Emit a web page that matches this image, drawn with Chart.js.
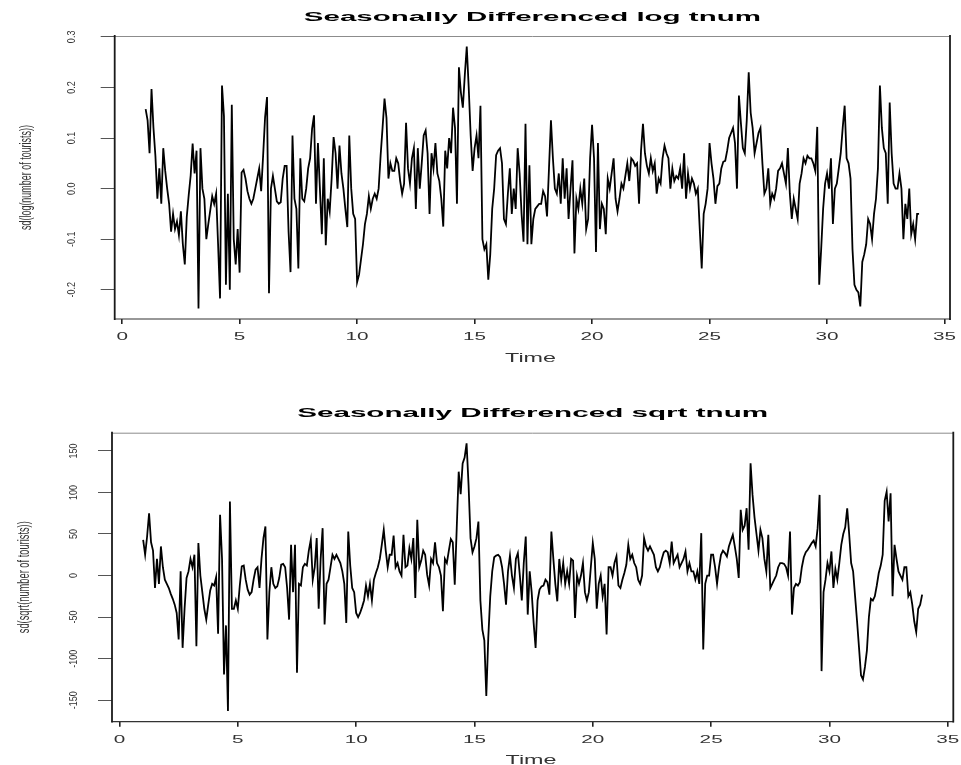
<!DOCTYPE html>
<html>
<head>
<meta charset="utf-8">
<script src="https://cdn.jsdelivr.net/npm/chart.js@4.4.1/dist/chart.umd.min.js"></script>
<style>
  html, body { margin: 0; padding: 0; background: #fff; }
  #wrap { position: relative; width: 961px; height: 765px; overflow: hidden; background: #fff; }
  #wrap canvas { position: absolute; left: 0; }
</style>
</head>
<body>
<div id="wrap">
  <canvas id="logPanel" width="961" height="380" style="top:0px"></canvas>
  <canvas id="sqrtPanel" width="961" height="385" style="top:380px"></canvas>
</div>
<script>
// Monthly series: start at time 1, 12 observations per unit of time
const tsStart = 1;
const tsFrequency = 12;

// Seasonally differenced log of tourist numbers (one row per year)
const sdLogTnum = [
   0.157,  0.135,  0.070,  0.197,  0.120,  0.064, -0.020,  0.040, -0.030,  0.080,  0.035,  0.000,
  -0.030, -0.085, -0.050, -0.080, -0.065, -0.092, -0.045, -0.110, -0.150, -0.056, -0.013,  0.026,
   0.089,  0.030,  0.075, -0.237,  0.080,  0.000, -0.020, -0.100, -0.070, -0.043, -0.015, -0.030,
  -0.010, -0.110, -0.217,  0.204,  0.143, -0.190, -0.010, -0.200,  0.166, -0.100, -0.150, -0.080,
  -0.166,  0.032,  0.037,  0.020, -0.005, -0.020, -0.030, -0.020,  0.000,  0.020,  0.040, -0.005,
   0.065,  0.141,  0.181, -0.207,  0.000,  0.025,  0.000, -0.025, -0.030, -0.027,  0.020,  0.045,
   0.045, -0.085, -0.165,  0.105, -0.020, -0.040, -0.158,  0.060, -0.020, -0.025,  0.000,  0.040,
   0.060,  0.118,  0.145, -0.030,  0.090,  0.000, -0.090,  0.060, -0.112, -0.020, -0.045,  0.020,
   0.102,  0.070,  0.000,  0.085,  0.030,  0.000, -0.040, -0.076,  0.105,  0.000, -0.050, -0.060,
  -0.185, -0.170, -0.140, -0.110, -0.070, -0.050, -0.015, -0.040, -0.020, -0.010, -0.020,  0.000,
   0.065,  0.120,  0.178,  0.140,  0.020,  0.050,  0.035,  0.035,  0.060,  0.050,  0.015, -0.010,
   0.010,  0.130,  0.040,  0.010,  0.060,  0.080, -0.040,  0.080,  0.000,  0.050,  0.105,  0.115,
   0.070, -0.050,  0.070,  0.040,  0.090,  0.030,  0.015, -0.020, -0.075,  0.075,  0.040,  0.100,
   0.070,  0.160,  0.120, -0.030,  0.240,  0.190,  0.160,  0.224,  0.281,  0.200,  0.105,  0.035,
   0.080,  0.105,  0.060,  0.164, -0.100, -0.120, -0.110, -0.180, -0.130, -0.040,  0.000,  0.066,
   0.075,  0.080,  0.050, -0.060, -0.070, -0.010,  0.040, -0.050,  0.000, -0.040,  0.080,  0.030,
  -0.050, -0.105,  0.128, -0.110,  0.046, -0.110, -0.060, -0.040, -0.035, -0.030, -0.030, -0.005,
  -0.015, -0.055,  0.040,  0.135,  0.060,  0.000, -0.010,  0.030, -0.030,  0.060, -0.020,  0.040,
  -0.060,  0.000,  0.056, -0.128, -0.020, -0.040,  0.000, -0.030,  0.020, -0.080, -0.060,  0.060,
   0.126,  0.060, -0.125,  0.090, -0.080, -0.030, -0.040, -0.090,  0.020,  0.000,  0.030,  0.060,
  -0.020, -0.045, -0.020,  0.010,  0.000,  0.025,  0.050,  0.015,  0.060,  0.055,  0.045,  0.050,
  -0.030,  0.075,  0.128,  0.070,  0.045,  0.030,  0.060,  0.035,  0.050, -0.010,  0.020,  0.010,
   0.060,  0.085,  0.070,  0.060,  0.000,  0.040,  0.015,  0.025,  0.020,  0.040,  0.000,  0.070,
  -0.020,  0.030,  0.000,  0.020,  0.010, -0.010,  0.000, -0.080, -0.158, -0.050, -0.030,  0.000,
   0.090,  0.050,  0.020, -0.030,  0.005,  0.010,  0.040,  0.053,  0.055,  0.075,  0.100,  0.110,
   0.120,  0.090,  0.000,  0.184,  0.130,  0.080,  0.070,  0.135,  0.230,  0.150,  0.120,  0.070,
   0.090,  0.110,  0.120,  0.050, -0.010,  0.000,  0.040, -0.030, -0.010, -0.020,  0.000,  0.035,
   0.040,  0.050,  0.030,  0.010,  0.080, -0.010, -0.060, -0.020, -0.040, -0.060,  0.010,  0.030,
   0.060,  0.050,  0.065,  0.060,  0.060,  0.050,  0.035,  0.122, -0.190, -0.120, -0.040,  0.010,
   0.030,  0.000,  0.060, -0.070,  0.000,  0.010,  0.040,  0.070,  0.120,  0.164,  0.060,  0.050,
   0.020, -0.120, -0.190, -0.200, -0.205, -0.233, -0.145, -0.130, -0.110, -0.060, -0.070, -0.100,
  -0.050, -0.020,  0.040,  0.204,  0.120,  0.080,  0.070, -0.030,  0.170,  0.070,  0.010,  0.000,
   0.000,  0.030,  0.000, -0.100, -0.030, -0.060,  0.000, -0.090, -0.070, -0.100, -0.050, -0.050
];

// Seasonally differenced square root of tourist numbers (one row per year)
const sdSqrtTnum = [
    43,   25,   47,   75,   40,   30,  -15,   20,  -10,   35,   10,   -5,
   -10,  -15,  -22,  -28,  -35,  -45,  -77,    5,  -87,  -40,   -3,    5,
    20,   10,   25,  -85,   39,    0,  -20,  -40,  -53,  -35,  -18,  -10,
   -12,   -2,  -70,   73,   20, -119,  -60, -163,   89,  -40,  -40,  -30,
   -40,  -12,   11,   12,   -5,  -17,  -23,  -20,   -5,    7,   10,  -15,
    20,   45,   59,  -77,  -20,   10,  -10,  -15,  -13,   -3,   13,   14,
    10,  -15,  -53,   37,  -20,   37, -117,  -10,  -12,   10,   14,   12,
    30,   43,   -5,   10,   45,  -40,   20,   57,  -59,  -10,   -5,   10,
    25,   20,   25,   20,   15,    5,  -10,  -57,   53,   12,  -15,  -20,
   -45,  -50,  -45,  -38,  -30,  -12,  -25,  -10,  -30,   -5,    3,   10,
    20,   37,   55,   30,   10,   25,   25,   48,   10,   15,    5,    0,
    49,   10,   12,   33,   20,   45,  -27,   67,   10,   18,   30,   25,
     1,  -12,   20,   15,   40,   15,   10,    0,  -43,   20,   15,   30,
    44,   40,  -11,   57,  125,   98,  135,  142,  159,  109,   45,   28,
    35,   45,   65,  -30,  -65,  -78, -145,  -75,  -25,    5,   22,   24,
    25,   22,   10,  -10,  -35,    5,   24,    0,  -15,   20,   27,    0,
   -30,   15,   47,  -47,    5,  -20,  -57,  -87,  -30,  -17,  -13,  -12,
    -5,   -8,  -23,   53,   20,  -10,  -31,   20,   -5,   15,  -10,    5,
   -10,   20,   18,  -51,    0,  -10,    0,   15,  -20,  -30,  -20,   10,
    39,   20,  -40,  -10,    0,  -25,  -10,  -71,   10,   10,    0,   15,
    23,  -12,  -15,   -5,    3,   13,   37,   20,   25,   15,   10,   -5,
   -10,    0,   45,   35,   30,   35,   30,   25,   10,    5,   10,   20,
    28,   30,   28,   15,   41,   15,   20,   25,   10,   15,   20,   29,
     5,   15,    5,    5,   -5,    5,  -10,   51,  -89,  -10,    0,    0,
    25,   25,   10,  -10,   10,   25,   30,   27,   23,   35,   42,   49,
    35,   20,   -3,   79,   55,   60,   81,   31,  135,   97,   70,   50,
    30,   55,   45,   20,    5,   49,  -15,  -10,   -5,    0,   10,   15,
    15,   14,   10,    0,   53,  -47,  -15,  -10,  -12,   -8,   10,   22,
    28,   31,   35,   39,   42,   35,   57,   97, -115,  -20,   -5,   15,
     5,   29,  -15,    8,   -5,   15,   37,   50,   58,   81,   50,   15,
     5,  -25,  -55,  -87, -120, -125, -110,  -90,  -50,  -28,  -30,  -25,
   -12,    3,   12,   25,   90,  101,   65,   99,  -25,   37,   20,    5,
     0,   -5,   10,   10,  -25,  -20,  -35,  -55,  -68,  -40,  -35,  -23
];

// Axis ticks
const timeTicks = [0, 5, 10, 15, 20, 25, 30, 35];
const logTicks = [-0.2, -0.1, 0.0, 0.1, 0.2, 0.3];
const logTickLabels = ['-0.2', '-0.1', '0.0', '0.1', '0.2', '0.3'];
const sqrtTicks = [-150, -100, -50, 0, 50, 100, 150];
const sqrtTickLabels = ['-150', '-100', '-50', '0', '50', '100', '150'];

const FONT = "'Liberation Sans', Arial, Helvetica, sans-serif";

// R-style axis limits: data range widened by 4% on each side
function rRange(vals) {
  let lo = Math.min(...vals), hi = Math.max(...vals);
  const pad = (hi - lo) * 0.04;
  return [lo - pad, hi + pad];
}

function timePoints(vals) {
  return vals.map((v, i) => ({ x: tsStart + i / tsFrequency, y: v }));
}

// Draw text with independent stretch along and across the glyph run
function stretchText(ctx, text, x, y, o) {
  ctx.save();
  ctx.font = o.font;
  ctx.fillStyle = o.color || '#000';
  ctx.translate(x, y);
  if (o.rotate) ctx.rotate(o.rotate);
  let sx = o.sx || 1;
  if (o.width) sx = o.width / ctx.measureText(text).width;
  ctx.scale(sx, o.sy || 1);
  ctx.textAlign = o.align || 'center';
  ctx.textBaseline = o.baseline || 'alphabetic';
  ctx.fillText(text, 0, 0);
  ctx.restore();
}

const rDecor = {
  id: 'rDecor',
  afterDraw(chart) {
    const d = chart.options.plugins.rDecor;
    const ctx = chart.ctx;
    const a = chart.chartArea;
    const xs = chart.scales.x, ys = chart.scales.y;

    // plot box
    ctx.save();
    ctx.lineCap = 'square';
    ctx.strokeStyle = '#8c8c8c'; ctx.lineWidth = 1;
    ctx.beginPath(); ctx.moveTo(a.left, a.top + 0.5); ctx.lineTo(a.right, a.top + 0.5); ctx.stroke();
    ctx.strokeStyle = '#333'; ctx.lineWidth = 1.2;
    ctx.beginPath(); ctx.moveTo(a.left, a.bottom); ctx.lineTo(a.right, a.bottom); ctx.stroke();
    ctx.strokeStyle = '#1a1a1a'; ctx.lineWidth = 1.8;
    ctx.beginPath(); ctx.moveTo(a.left, a.top); ctx.lineTo(a.left, a.bottom); ctx.stroke();
    ctx.beginPath(); ctx.moveTo(a.right, a.top); ctx.lineTo(a.right, a.bottom); ctx.stroke();
    ctx.restore();

    // main title
    stretchText(ctx, d.title, (a.left + a.right) / 2, d.titleBaseline,
      { font: 'bold 12.5px ' + FONT, width: d.titleWidth });

    // x tick labels
    timeTicks.forEach(t => {
      stretchText(ctx, String(t), xs.getPixelForValue(t), d.xLabelBaseline,
        { font: '11.5px ' + FONT, sx: 1.8, color: '#333' });
    });
    // x axis title
    stretchText(ctx, 'Time', d.timeX, d.timeBaseline,
      { font: '13px ' + FONT, width: 51, color: '#333' });

    // y tick labels (parallel to axis)
    d.yTicks.forEach((v, i) => {
      stretchText(ctx, d.yTickLabels[i], d.yTickX, ys.getPixelForValue(v),
        { font: '9px ' + FONT, rotate: -Math.PI / 2, sy: 1.3, baseline: 'middle', color: '#333' });
    });
    // y axis title
    stretchText(ctx, d.yTitle, d.yTitleX, (a.top + a.bottom) / 2,
      { font: '11px ' + FONT, rotate: -Math.PI / 2, width: d.yTitleLen, sy: 1.5, baseline: 'middle', color: '#333' });
  }
};

function makePanel(canvasId, values, yTicks, yTickLabels, deco, padding) {
  const [yMin, yMax] = rRange(values);
  const t = values.map((v, i) => tsStart + i / tsFrequency);
  const [xMin, xMax] = rRange(t);
  return new Chart(document.getElementById(canvasId), {
    type: 'line',
    data: {
      datasets: [{
        data: timePoints(values),
        borderColor: '#000',
        borderWidth: 1.8,
        pointRadius: 0,
        pointHoverRadius: 0,
        tension: 0,
        fill: false
      }]
    },
    options: {
      responsive: false,
      animation: false,
      devicePixelRatio: 1,
      parsing: false,
      events: [],
      layout: { padding, autoPadding: false },
      plugins: {
        legend: { display: false },
        tooltip: { enabled: false },
        title: { display: false },
        rDecor: Object.assign({ yTicks, yTickLabels }, deco)
      },
      scales: {
        x: {
          type: 'linear', min: xMin, max: xMax,
          afterBuildTicks: s => { s.ticks = timeTicks.map(v => ({ value: v })); },
          ticks: { display: false },
          grid: { display: true, drawOnChartArea: false, drawTicks: true, tickLength: 5, color: '#222', lineWidth: 1.6 },
          border: { display: false }
        },
        y: {
          type: 'linear', min: yMin, max: yMax,
          afterBuildTicks: s => { s.ticks = yTicks.map(v => ({ value: v })); },
          ticks: { display: false },
          grid: { display: true, drawOnChartArea: false, drawTicks: true, tickLength: 14, color: '#555', lineWidth: 1 },
          border: { display: false }
        }
      }
    },
    plugins: [rDecor]
  });
}

makePanel('logPanel', sdLogTnum, logTicks, logTickLabels, {
  title: 'Seasonally Differenced log tnum',
  titleBaseline: 20.7, titleWidth: 457,
  xLabelBaseline: 340, timeX: 530.5, timeBaseline: 361.5,
  yTickX: 71.5, yTitle: 'sd(log(number of tourists))', yTitleX: 26, yTitleLen: 105
}, { left: 100.7, right: 11, top: 36, bottom: 56 });

makePanel('sqrtPanel', sdSqrtTnum, sqrtTicks, sqrtTickLabels, {
  title: 'Seasonally Differenced sqrt tnum',
  titleBaseline: 37.3, titleWidth: 471,
  xLabelBaseline: 363.3, timeX: 531, timeBaseline: 384,
  yTickX: 73.3, yTitle: 'sd(sqrt(number of tourists))', yTitleX: 24, yTitleLen: 112
}, { left: 98, right: 7.7, top: 52.7, bottom: 38.3 });
</script>
</body>
</html>
